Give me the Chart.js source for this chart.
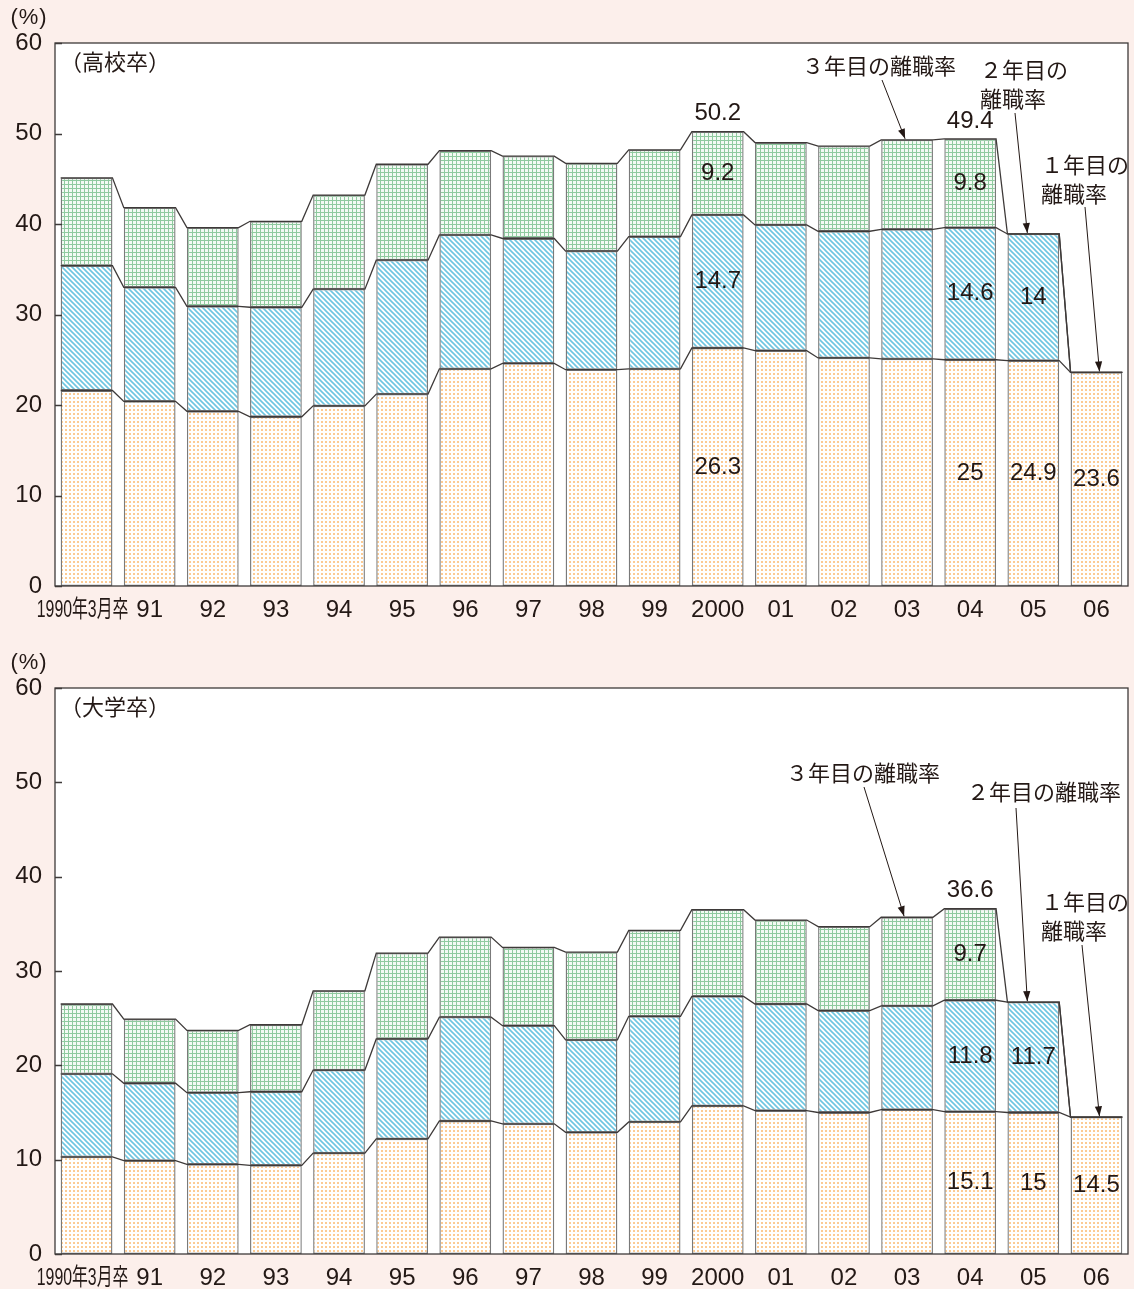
<!DOCTYPE html>
<html lang="ja">
<head>
<meta charset="utf-8">
<title>新規学卒就職者の離職率</title>
<script src="https://cdn.jsdelivr.net/npm/chart.js@4.4.1/dist/chart.umd.min.js"></script>
<style>
html,body{margin:0;padding:0;background:#fcefeb;}
body{width:1134px;height:1289px;position:relative;overflow:hidden;}
canvas{position:absolute;left:0;display:block;}
#c1{top:0;}
#c2{top:645px;}
</style>
</head>
<body>
<canvas id="c1" width="1134" height="640"></canvas>
<canvas id="c2" width="1134" height="644"></canvas>
<script>
// ---- data ----
const years = ['1990年3月卒','91','92','93','94','95','96','97','98','99','2000','01','02','03','04','05','06'];
const yTicks = [0, 10, 20, 30, 40, 50, 60];
const seriesNames = ['1年目の離職率', '2年目の離職率', '3年目の離職率'];

// 高校卒 (%)
const hsYear1 = [21.6, 20.4, 19.3, 18.7, 19.9, 21.2, 24.0, 24.6, 23.9, 24.0, 26.3, 26.0, 25.2, 25.1, 25, 24.9, 23.6];
const hsYear2 = [13.8, 12.6, 11.6, 12.1, 12.9, 14.8, 14.8, 13.8, 13.1, 14.6, 14.7, 13.9, 14.0, 14.3, 14.6, 14, null];
const hsYear3 = [9.7, 8.8, 8.7, 9.5, 10.4, 10.6, 9.3, 9.1, 9.7, 9.6, 9.2, 9.1, 9.4, 9.9, 9.8, null, null];

// 大学卒 (%)
const uniYear1 = [10.3, 9.9, 9.5, 9.4, 10.7, 12.2, 14.1, 13.8, 12.9, 14.0, 15.7, 15.2, 15.0, 15.3, 15.1, 15, 14.5];
const uniYear2 = [8.8, 8.2, 7.6, 7.8, 8.8, 10.6, 11.0, 10.4, 9.8, 11.2, 11.6, 11.3, 10.8, 11.0, 11.8, 11.7, null];
const uniYear3 = [7.4, 6.8, 6.6, 7.1, 8.4, 9.1, 8.5, 8.3, 9.3, 9.1, 9.2, 8.9, 8.9, 9.4, 9.7, null, null];

// years whose segment values / totals are written on the chart
const hsValueYears = ['2000', '04', '05', '06'];
const hsTotalYears = ['2000', '04'];
const uniValueYears = ['04', '05', '06'];
const uniTotalYears = ['04'];

// ---- styling ----
const INK = '#231815';
const NUM_FONT = "'Liberation Sans', Arial, Helvetica, sans-serif";
const JP_FONT = "'Noto Sans CJK JP', 'Noto Sans', sans-serif";

function tile(size, draw) {
  const c = document.createElement('canvas');
  c.width = c.height = size;
  const g = c.getContext('2d');
  draw(g, size);
  return g.createPattern(c, 'repeat');
}
// dotted orange (1年目)
const dotFill = tile(4, (g) => {
  g.fillStyle = '#ffffff'; g.fillRect(0, 0, 4, 4);
  g.fillStyle = '#fccb94'; g.fillRect(1, 1, 2, 2);
});
// diagonal blue hatch (2年目)
const hatchFill = tile(5, (g, s) => {
  g.fillStyle = '#ffffff'; g.fillRect(0, 0, s, s);
  g.strokeStyle = '#6ec6e1'; g.lineWidth = 1.6;
  g.beginPath();
  g.moveTo(-1, -1); g.lineTo(s + 1, s + 1);
  g.moveTo(-1, s - 1); g.lineTo(1, s + 1);
  g.moveTo(s - 1, -1); g.lineTo(s + 1, 1);
  g.stroke();
});
// green grid (3年目)
const gridFill = tile(4, (g) => {
  g.fillStyle = '#8fca9f'; g.fillRect(0, 0, 4, 4);
  g.fillStyle = '#f3faf4'; g.fillRect(1, 1, 3, 3);
});

// callouts with arrows pointing at bar tops
const hsCallouts = [
  { lines: ['３年目の離職率'], x: 802, y: 66, from: [882, 80], bar: 13, dx: -2 },
  { lines: ['２年目の', '離職率'], x: 980, y: 70, from: [1015, 113], bar: 15, dx: -6 },
  { lines: ['１年目の', '離職率'], x: 1041, y: 165, from: [1085, 207], bar: 16, dx: 3 }
];
const uniCallouts = [
  { lines: ['３年目の離職率'], x: 786, y: 128, from: [864, 142], bar: 13, dx: -3 },
  { lines: ['２年目の離職率'], x: 967, y: 147, from: [1016, 163], bar: 15, dx: -6 },
  { lines: ['１年目の', '離職率'], x: 1041, y: 257, from: [1082, 300], bar: 16, dx: 3 }
];

// ---- plugins ----
const framePlugin = {
  id: 'frame',
  beforeDraw(chart) {
    const { ctx, chartArea: a } = chart;
    ctx.save();
    ctx.fillStyle = '#ffffff';
    ctx.fillRect(a.left, a.top, a.right - a.left, a.bottom - a.top);
    ctx.restore();
  },
  afterDraw(chart, args, opts) {
    const { ctx, chartArea: a, scales } = chart;
    ctx.save();
    ctx.strokeStyle = '#3e3a39';
    ctx.lineWidth = 1.3;
    ctx.strokeRect(a.left, a.top, a.right - a.left, a.bottom - a.top);
    // inward tick marks
    ctx.beginPath();
    yTicks.forEach(v => {
      const y = Math.round(scales.y.getPixelForValue(v)) + 0.5;
      ctx.moveTo(a.left, y); ctx.lineTo(a.left + 7, y);
    });
    ctx.stroke();

    // unit and panel title
    ctx.fillStyle = INK;
    ctx.textBaseline = 'middle';
    ctx.textAlign = 'center';
    ctx.font = '22px ' + NUM_FONT;
    ctx.letterSpacing = '1px';
    ctx.fillText('(%)', 29, 18);
    ctx.letterSpacing = '0px';
    ctx.textAlign = 'left';
    ctx.font = '22px ' + JP_FONT;
    ctx.fillText(opts.title, 60, a.top + 19);

    // category labels
    const xs = scales.x;
    chart.data.labels.forEach((lab, i) => {
      const x = xs.getPixelForValue(i);
      const y = a.bottom + 24;
      ctx.font = '24px ' + NUM_FONT + ', ' + JP_FONT;
      ctx.textAlign = 'center';
      if (i === 0) {
        ctx.save();
        ctx.translate(x - 4, y);
        ctx.scale(0.66, 1);
        ctx.fillText(lab, 0, 0);
        ctx.restore();
      } else {
        ctx.fillText(lab, x, y);
      }
    });
    ctx.restore();
  }
};

const connectorPlugin = {
  id: 'connectors',
  afterDatasetsDraw(chart) {
    const { ctx, scales } = chart;
    const ds = chart.data.datasets;
    const meta0 = chart.getDatasetMeta(0);
    const n = chart.data.labels.length;
    ctx.save();
    ctx.strokeStyle = '#3e3a39';
    ctx.lineWidth = 1.3;
    ctx.lineJoin = 'miter';
    for (let lvl = 0; lvl < ds.length; lvl++) {
      ctx.beginPath();
      for (let i = 0; i < n; i++) {
        let cum = 0;
        for (let k = 0; k <= lvl; k++) cum += ds[k].data[i] || 0;
        const bar = meta0.data[i];
        const half = bar.width / 2;
        const y = scales.y.getPixelForValue(cum);
        if (i === 0) ctx.moveTo(bar.x - half, y); else ctx.lineTo(bar.x - half, y);
        ctx.lineTo(bar.x + half, y);
      }
      ctx.stroke();
    }
    ctx.restore();
  }
};

const valuePlugin = {
  id: 'values',
  afterDatasetsDraw(chart, args, opts) {
    const { ctx, scales } = chart;
    const ds = chart.data.datasets;
    ctx.save();
    ctx.fillStyle = INK;
    ctx.font = '24px ' + NUM_FONT;
    ctx.textAlign = 'center';
    ctx.textBaseline = 'middle';
    chart.data.labels.forEach((lab, i) => {
      if (opts.valueYears.includes(lab)) {
        ds.forEach((d, k) => {
          const v = d.data[i];
          if (v == null) return;
          const el = chart.getDatasetMeta(k).data[i];
          ctx.fillText(String(v), el.x, (el.y + el.base) / 2);
        });
      }
      if (opts.totalYears.includes(lab)) {
        const total = ds.reduce((s, d) => s + (d.data[i] || 0), 0);
        const x = scales.x.getPixelForValue(i);
        ctx.fillText(total.toFixed(1), x, scales.y.getPixelForValue(total) - 18);
      }
    });
    ctx.restore();
  }
};

const calloutPlugin = {
  id: 'callouts',
  afterDraw(chart, args, opts) {
    const { ctx, scales } = chart;
    const ds = chart.data.datasets;
    ctx.save();
    ctx.fillStyle = INK;
    ctx.strokeStyle = INK;
    ctx.lineWidth = 1;
    ctx.font = '22px ' + JP_FONT;
    ctx.textAlign = 'left';
    ctx.textBaseline = 'middle';
    opts.items.forEach(c => {
      c.lines.forEach((t, j) => ctx.fillText(t, c.x, c.y + j * 29));
      const total = ds.reduce((s, d) => s + (d.data[c.bar] || 0), 0);
      const tx = scales.x.getPixelForValue(c.bar) + c.dx;
      const ty = scales.y.getPixelForValue(total) - 1;
      const [fx, fy] = c.from;
      ctx.beginPath(); ctx.moveTo(fx, fy); ctx.lineTo(tx, ty); ctx.stroke();
      const ang = Math.atan2(ty - fy, tx - fx);
      const L = 10, W = 3.6;
      ctx.beginPath();
      ctx.moveTo(tx, ty);
      ctx.lineTo(tx - L * Math.cos(ang) + W * Math.sin(ang), ty - L * Math.sin(ang) - W * Math.cos(ang));
      ctx.lineTo(tx - L * Math.cos(ang) - W * Math.sin(ang), ty - L * Math.sin(ang) + W * Math.cos(ang));
      ctx.closePath();
      ctx.fill();
    });
    ctx.restore();
  }
};

function makeChart(id, d1, d2, d3, cfg) {
  const seg = (label, data, fill) => ({
    label, data, backgroundColor: fill,
    borderColor: '#7a7a7a', borderWidth: 1.4, borderSkipped: false,
    barPercentage: 0.82, categoryPercentage: 1.0
  });
  return new Chart(document.getElementById(id), {
    type: 'bar',
    data: {
      labels: years,
      datasets: [
        seg(seriesNames[0], d1, dotFill),
        seg(seriesNames[1], d2, hatchFill),
        seg(seriesNames[2], d3, gridFill)
      ]
    },
    options: {
      responsive: false,
      animation: false,
      devicePixelRatio: 1,
      layout: { padding: { top: 43, right: 6, left: 0, bottom: 0 } },
      plugins: {
        legend: { display: false },
        tooltip: { enabled: false },
        frame: { title: cfg.title },
        values: { valueYears: cfg.valueYears, totalYears: cfg.totalYears },
        callouts: { items: cfg.callouts }
      },
      scales: {
        x: {
          stacked: true,
          grid: { display: false },
          border: { display: false },
          ticks: { display: false },
          afterFit(s) { s.height = cfg.xAxisHeight; }
        },
        y: {
          stacked: true,
          min: 0, max: 60,
          afterBuildTicks(s) { s.ticks = yTicks.map(v => ({ value: v })); },
          ticks: { color: INK, font: { family: NUM_FONT, size: 24 }, padding: 13 },
          grid: { display: false, drawTicks: false },
          border: { display: false },
          afterFit(s) { s.width = 55; }
        }
      }
    },
    plugins: [framePlugin, connectorPlugin, valuePlugin, calloutPlugin]
  });
}

makeChart('c1', hsYear1, hsYear2, hsYear3, {
  title: '（高校卒）', valueYears: hsValueYears, totalYears: hsTotalYears,
  callouts: hsCallouts, xAxisHeight: 54
});
makeChart('c2', uniYear1, uniYear2, uniYear3, {
  title: '（大学卒）', valueYears: uniValueYears, totalYears: uniTotalYears,
  callouts: uniCallouts, xAxisHeight: 35
});
</script>
</body>
</html>
